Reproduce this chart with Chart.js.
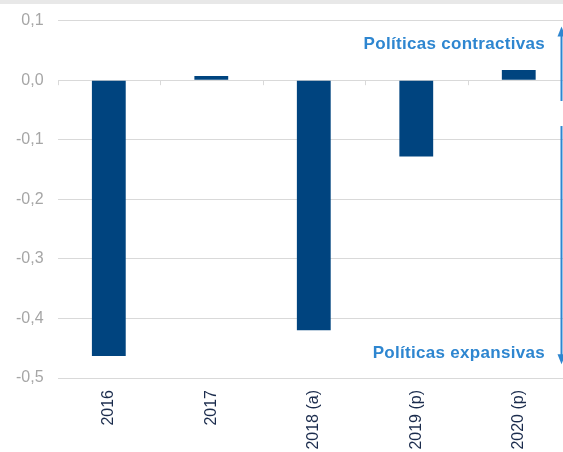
<!DOCTYPE html>
<html><head><meta charset="utf-8">
<script src="https://cdn.jsdelivr.net/npm/chart.js@4"></script>
<style>
html,body{margin:0;padding:0;background:#fff;overflow:hidden;}
#top{height:4px;background:#e8e8e8;width:563px;}
#wrap{position:absolute;left:0;top:-3px;width:570px;height:455px;}
</style></head><body>
<div id="wrap"><canvas id="c"></canvas></div>
<div id="top" style="position:absolute;left:0;top:0;"></div>
<script>
const categories = ['2016','2017','2018 (a)','2019 (p)','2020 (p)'];
const values = [-0.463, 0.007, -0.420, -0.128, 0.017];
const yTicks = [0.1, 0.0, -0.1, -0.2, -0.3, -0.4, -0.5];
const labelTop = 'Políticas contractivas';
const labelBottom = 'Políticas expansivas';

const fontFam = '"Liberation Sans", Arial, sans-serif';

const overlay = {
  id: 'overlay',
  afterDraw(chart) {
    const ctx = chart.ctx, x = chart.scales.x, y = chart.scales.y, a = chart.chartArea;
    const y0 = y.getPixelForValue(0);
    ctx.save();
    // category boundary ticks on zero line
    ctx.strokeStyle = '#d9d9d9'; ctx.lineWidth = 1;
    for (let i = 0; i <= categories.length; i++) {
      const px = Math.round(a.left + i * (a.right - a.left) / categories.length) + 0.5;
      ctx.beginPath(); ctx.moveTo(px, y0); ctx.lineTo(px, y0 + 5); ctx.stroke();
    }
    // arrows
    const ax = 561.5;
    const col = '#2E86D0';
    ctx.strokeStyle = col; ctx.fillStyle = col; ctx.lineWidth = 2;
    const upTop = y.getPixelForValue(0.09), upBot = y.getPixelForValue(-0.035);
    const dnTop = y.getPixelForValue(-0.077), dnBot = y.getPixelForValue(-0.477);
    ctx.beginPath(); ctx.moveTo(ax, upBot); ctx.lineTo(ax, upTop + 8); ctx.stroke();
    ctx.beginPath(); ctx.moveTo(ax, upTop); ctx.lineTo(ax - 4, upTop + 10); ctx.lineTo(ax + 4, upTop + 10); ctx.closePath(); ctx.fill();
    ctx.beginPath(); ctx.moveTo(ax, dnTop); ctx.lineTo(ax, dnBot - 8); ctx.stroke();
    ctx.beginPath(); ctx.moveTo(ax, dnBot); ctx.lineTo(ax - 4, dnBot - 10); ctx.lineTo(ax + 4, dnBot - 10); ctx.closePath(); ctx.fill();
    // texts
    ctx.font = 'bold 17px ' + fontFam;
    try { ctx.letterSpacing = '0.3px'; } catch (e) {}
    ctx.textAlign = 'right'; ctx.textBaseline = 'middle';
    ctx.fillText(labelTop, 545, y.getPixelForValue(0.061));
    ctx.fillText(labelBottom, 545, y.getPixelForValue(-0.458));
    ctx.restore();
  }
};

new Chart(document.getElementById('c'), {
  type: 'bar',
  data: {
    labels: categories,
    datasets: [{
      data: values,
      backgroundColor: '#00447F',
      borderWidth: 0,
      barPercentage: 0.33,
      categoryPercentage: 1.0
    }]
  },
  options: {
    responsive: true,
    maintainAspectRatio: false,
    animation: false,
    layout: { padding: { top: 6, left: 2, right: 0, bottom: 0 } },
    plugins: { legend: { display: false }, tooltip: { enabled: false } },
    scales: {
      x: {
        grid: { display: false, drawTicks: false },
        border: { display: false },
        afterFit(scale) { scale.height = 74; },
        ticks: {
          minRotation: 90, maxRotation: 90, autoSkip: false,
          color: '#1A2B4C', padding: 12,
          font: { family: fontFam, size: 16 }
        }
      },
      y: {
        min: -0.5, max: 0.1,
        afterBuildTicks(scale) { scale.ticks = yTicks.map(v => ({ value: v })); },
        grid: { color: '#d9d9d9', lineWidth: 1, drawTicks: false },
        border: { display: false },
        ticks: {
          color: '#A6A6A6', padding: 14,
          font: { family: fontFam, size: 16 },
          callback: v => (Math.abs(v) < 1e-9 ? 0 : v).toFixed(1).replace('.', ',')
        }
      }
    }
  },
  plugins: [overlay]
});
</script>
</body></html>
